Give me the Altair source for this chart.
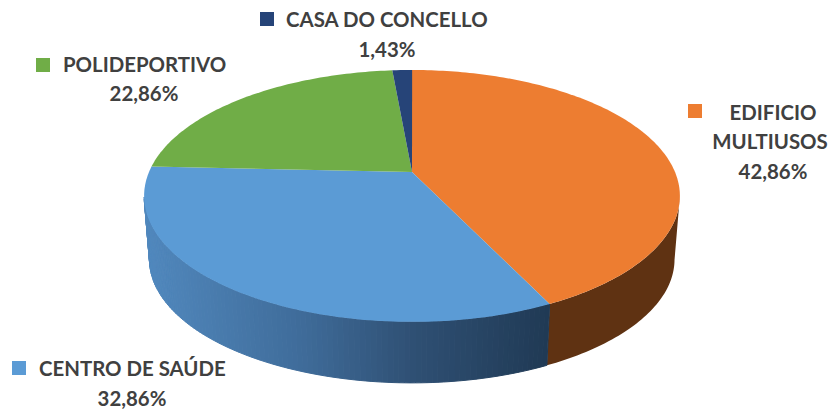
import math
import altair as alt

# ---- data
categories = ["EDIFICIO MULTIUSOS", "CENTRO DE SAÚDE", "POLIDEPORTIVO", "CASA DO CONCELLO"]
shares = [42.86, 32.86, 22.86, 1.43]
top_colors = ["#ED7D31", "#5B9BD5", "#70AD47", "#264478"]

label_lines = ["CASA DO CONCELLO", "1,43%", "POLIDEPORTIVO", "22,86%", "EDIFICIO", "MULTIUSOS",
               "42,86%", "CENTRO DE SAÚDE", "32,86%"]
label_x = [286, 387, 63, 144, 773, 770, 773, 39, 132]
label_y = [20, 50, 65, 94, 113, 142, 172, 369, 399]
label_align = ["left", "center", "left", "center", "center", "center", "center", "left", "center"]
square_x = [267, 43, 695, 19]
square_y = [19, 65, 111, 368]
square_colors = ["#264478", "#70AD47", "#ED7D31", "#5B9BD5"]

# ---- 3D pie geometry (page pixels)
CX, CY = 412, 172     # apex of the pie
A, B, K = 121.4, 263.0, 0.19   # perspective of the disc
DEPTH, SHRINK = 64, 0.98
M = 8  # page margin
WALL_FROM, WALL_TO = -11.0, -169.0  # the part of the rim that faces the viewer


def rim(deg):
    t = math.radians(deg)
    X, Y = math.cos(t), math.sin(t)
    w = 1 + K * Y
    return CX + B * X / w, CY - A * Y / w


def low(p):
    return CX + (p[0] - CX) * SHRINK, CY + (p[1] - CY) * SHRINK + DEPTH


def feature(ring, color, shade=None):
    return {"type": "Feature",
            "geometry": {"type": "Polygon", "coordinates": [[list(p) for p in ring]]},
            "properties": {"color": color, "shade": shade}}


tops, walls_blue, walls_orange = [], [], []
start = 90.0
for name, share, col in zip(categories, shares, top_colors):
    span = share * 3.6
    n = max(2, int(span))
    arc = [start - span * i / n for i in range(n + 1)]
    pts = [rim(a) for a in arc]
    tops.append(feature([(CX, CY)] + pts + [(CX, CY)], col))
    front = [a for a in arc if WALL_TO <= a <= WALL_FROM]
    if name == categories[0]:
        up = [rim(a) for a in front]
        walls_orange.append(feature(up + [low(p) for p in reversed(up)] + up[:1], "#5F3212"))
    elif name == categories[1]:
        for a0, a1 in zip(front[:-1], front[1:]):
            p0, p1 = rim(a0), rim(a1)
            walls_blue.append(feature([p0, p1, low(p1), low(p0), p0], "#2F5074", (p0[0] + p1[0]) / 2))
    start -= span

proj = alt.Projection(type="identity", scale=1, translate=[-M, -M])
shade_scale = alt.Scale(domain=[150, 300, 412, 548],
                        range=["#5087BC", "#3F6C9A", "#2F5074", "#203A55"])

wall_o = alt.Chart(alt.Data(values=walls_orange)).mark_geoshape(
    fill="#5F3212", strokeWidth=0, opacity=1
).project(**proj.to_dict())

wall_b = alt.Chart(alt.Data(values=walls_blue)).mark_geoshape(strokeWidth=1, opacity=1).encode(
    fill=alt.Fill("properties.shade:Q", legend=None, scale=shade_scale),
    stroke=alt.Stroke("properties.shade:Q", legend=None, scale=shade_scale),
).project(**proj.to_dict())

top = alt.Chart(alt.Data(values=tops)).mark_geoshape(strokeWidth=0, opacity=1).encode(
    fill=alt.Fill("properties.color:N", scale=None),
).project(**proj.to_dict())

squares = alt.Chart(alt.Data(values=[
    {"x": x - M, "y": y - M, "c": c} for x, y, c in zip(square_x, square_y, square_colors)
])).mark_square(size=196, opacity=1, filled=True).encode(
    x=alt.X("x:Q", scale=None, axis=None),
    y=alt.Y("y:Q", scale=None, axis=None),
    fill=alt.Fill("c:N", scale=None),
)

texts = []
for t, x, y, al in zip(label_lines, label_x, label_y, label_align):
    texts.append(alt.Chart(alt.Data(values=[{"t": t, "x": x - M, "y": y - M}])).mark_text(
        font="Lato", fontWeight="bold", fontSize=20.4, color="#404040", align=al,
        baseline="middle", dy=1
    ).encode(x=alt.X("x:Q", scale=None, axis=None), y=alt.Y("y:Q", scale=None, axis=None),
             text="t:N"))

chart = alt.layer(wall_o, wall_b, top, squares, *texts).properties(
    width=820, height=402, padding=0, autosize=alt.AutoSizeParams(type="none")
).configure_view(stroke=None).resolve_scale(fill="independent", stroke="independent")

chart.save("out.html", embed_options={"renderer": "svg", "actions": False})
